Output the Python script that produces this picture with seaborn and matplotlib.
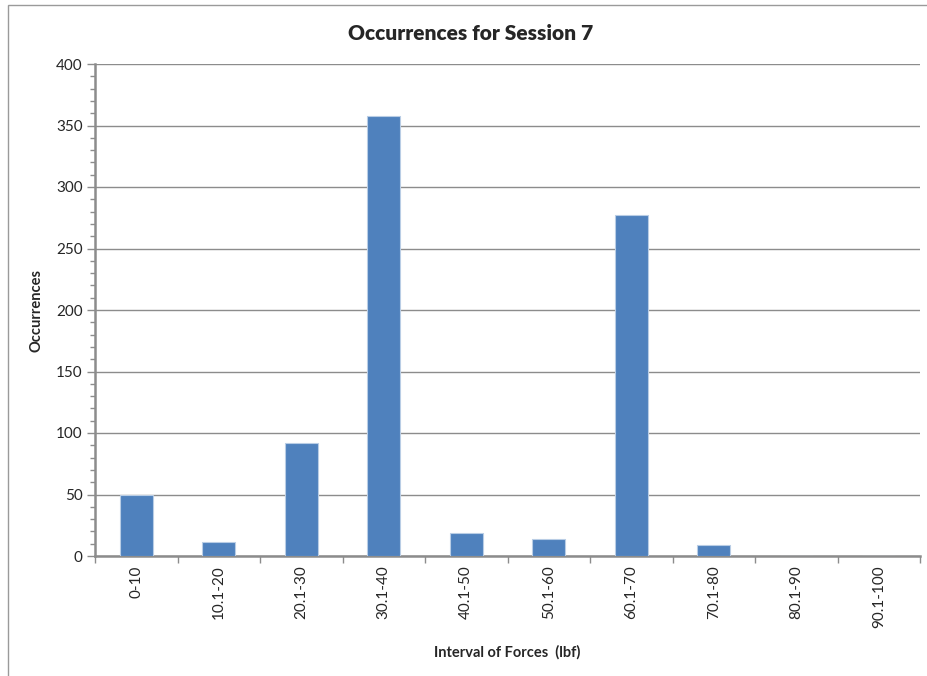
import numpy as np
import pandas as pd
import seaborn as sns
import matplotlib.pyplot as plt
from matplotlib.patches import Rectangle
from matplotlib.ticker import MultipleLocator

# values
intervals = ["0-10", "10.1-20", "20.1-30", "30.1-40", "40.1-50",
             "50.1-60", "60.1-70", "70.1-80", "80.1-90", "90.1-100"]
occurrences = [50, 11, 92, 358, 19, 14, 277, 9, 0, 0]

title = "Occurrences for Session 7"
x_label = "Interval of Forces  (lbf)"
y_label = "Occurrences"

df = pd.DataFrame({"Interval": intervals, "Occurrences": occurrences})

sns.set_theme(style="white")
plt.rcParams['font.family'] = ['Lato', 'DejaVu Sans']

grid_gray = "#8c8c8c"
bar_blue = "#4f81bd"

fig = plt.figure(figsize=(9.27, 6.76), dpi=100)
ax = fig.add_axes([95 / 927, 1 - 556 / 676, 825 / 927, 492 / 676])

sns.barplot(data=df, x="Interval", y="Occurrences", ax=ax, color=bar_blue,
            saturation=1, width=0.4, edgecolor="#b9cde5", linewidth=0.8, zorder=3)

ax.set_xlim(-0.5, len(intervals) - 0.5)
ax.set_ylim(0, 400)

# y axis: majors every 50 with grid, minors every 10
ax.yaxis.set_major_locator(MultipleLocator(50))
ax.yaxis.set_minor_locator(MultipleLocator(10))
ax.yaxis.grid(True, which="major", color=grid_gray, linewidth=1, zorder=0)
ax.tick_params(axis="y", which="major", direction="out", length=6, width=1,
               color=grid_gray, labelsize=11, pad=3, left=True)
ax.tick_params(axis="y", which="minor", direction="out", length=3.5, width=1,
               color=grid_gray, left=True)

# x axis: ticks on category borders, labels on category centres
ax.set_xticks(np.arange(-0.5, len(intervals)), labels=[""] * (len(intervals) + 1))
ax.set_xticks(np.arange(len(intervals)), labels=intervals, minor=True, rotation=90)
ax.tick_params(axis="x", which="major", direction="out", length=5, width=1,
               color=grid_gray, bottom=True)
ax.tick_params(axis="x", which="minor", length=0, labelsize=11, pad=7)
for lbl in ax.get_xticklabels(minor=True):
    lbl.set_verticalalignment("top")

for side in ["top", "right"]:
    ax.spines[side].set_visible(False)
for side in ["left", "bottom"]:
    ax.spines[side].set_color(grid_gray)
    ax.spines[side].set_linewidth(1.8)

ax.set_xlabel(x_label, fontsize=10.5, fontweight="bold", labelpad=12)
ax.set_ylabel(y_label, fontsize=10.5, fontweight="bold", labelpad=9)

fig.text(471 / 927, 1 - 33 / 676, title, ha="center", va="center",
         fontsize=15, fontweight="heavy")

# chart area border (only left and top edges visible in the reference)
fig.patches.append(Rectangle((8 / 927, -0.1), 1.2, 1.1 - 5 / 676,
                             transform=fig.transFigure, fill=False,
                             edgecolor="#9a9a9a", linewidth=1))

fig.savefig("out.png", dpi=100)
